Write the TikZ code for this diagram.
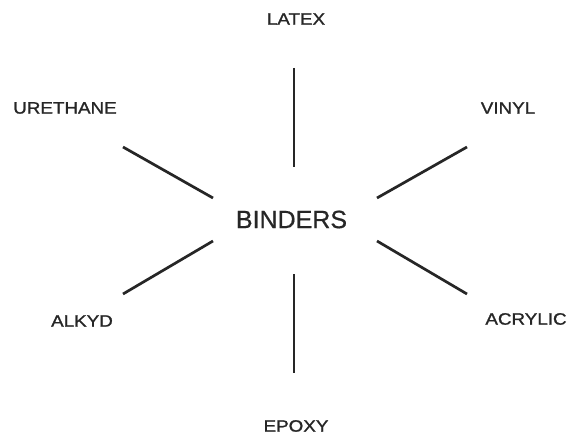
\documentclass[tikz,border=0pt]{standalone}
\usepackage{fontspec}
\setmainfont{Liberation Sans}
\newfontfamily\labfont[FakeStretch=1.14,FakeBold=1.2]{Liberation Sans}
\newfontfamily\hubfont[FakeBold=0.6]{Liberation Sans}
\definecolor{ink}{HTML}{262626}
\begin{document}
\begin{tikzpicture}[x=1pt,y=-1pt,
  lab/.style={text=ink,inner sep=0pt,font=\labfont\fontsize{16.5}{18}\selectfont},
  hub/.style={text=ink,inner sep=0pt,font=\hubfont\fontsize{25}{28}\selectfont},
  spoke/.style={draw=ink,line width=2.7pt}]
\useasboundingbox[fill=white] (0,0) rectangle (574,436);
\node[hub] (binders) at (291.5,219.5) {BINDERS};
\node[lab] (latex) at (296,19) {LATEX};
\node[lab] (urethane) at (65,108) {URETHANE};
\node[lab] (vinyl) at (508,108) {VINYL};
\node[lab] (alkyd) at (82,321) {ALKYD};
\node[lab] (acrylic) at (526,319) {ACRYLIC};
\node[lab] (epoxy) at (296,426) {EPOXY};
\coordinate (t1) at (294,68);  \coordinate (t2) at (294,167);
\coordinate (b1) at (294,274); \coordinate (b2) at (294,373);
\coordinate (ul1) at (123,147); \coordinate (ul2) at (213,198);
\coordinate (ur1) at (467,147); \coordinate (ur2) at (377,198);
\coordinate (ll1) at (123,294); \coordinate (ll2) at (213,241);
\coordinate (lr1) at (467,294); \coordinate (lr2) at (377,241);
\draw[spoke] (t1) -- (t2);
\draw[spoke] (b1) -- (b2);
\draw[spoke] (ul1) -- (ul2);
\draw[spoke] (ur1) -- (ur2);
\draw[spoke] (ll1) -- (ll2);
\draw[spoke] (lr1) -- (lr2);
\end{tikzpicture}
\end{document}
